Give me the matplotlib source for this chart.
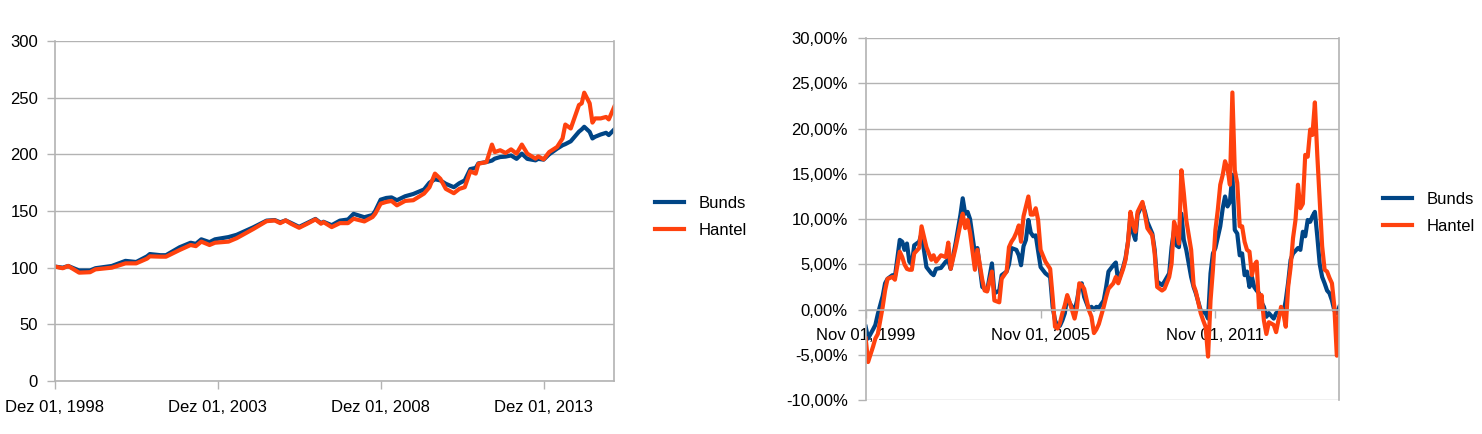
import matplotlib
matplotlib.use("Agg")
import matplotlib.pyplot as plt
import pandas as pd

plt.rcParams['font.family'] = ['Liberation Sans', 'DejaVu Sans']

BLUE = "#004586"
ORANGE = "#ff420e"
GRID = "#b3b3b3"

# ---------------- Left chart: index level (monthly, start Dec 1998) -----------
left_start = "1998-12-01"
left_months = [0, 3, 5, 9, 13, 15, 21, 26, 30, 34, 35, 39, 41, 46, 50, 52, 54, 57, 59, 64,
               67, 73, 78, 81, 83, 85, 87, 90, 93, 96, 98, 99, 102, 105, 108, 110, 114, 117,
               118, 120, 122, 124, 126, 129, 132, 136, 138, 140, 142, 144, 147, 149, 151,
               153, 155, 156, 159, 161, 162, 164, 166, 168, 170, 172, 174, 177, 178, 180,
               182, 185, 187, 188, 190, 193, 194, 195, 197, 198, 199, 201, 203, 204, 206]
left_bunds = [101, 100, 101.5, 97.5, 97.5, 99.5, 101.5, 106, 105, 110, 112, 111, 111, 118,
              122, 121, 125, 122.5, 125, 127, 129, 135.5, 141.5, 142, 140, 141.7, 139.5, 136,
              139.5, 143, 139.3, 140.5, 137.5, 141.5, 142.5, 147.5, 144.5, 146.5, 150, 160,
              161.5, 162, 159.5, 163, 165, 169, 175, 178, 177, 174, 171, 174.5, 177, 187, 188,
              192, 193.2, 194.5, 196.2, 197.6, 198, 199, 196, 200.6, 196, 194.7, 196, 195.3,
              200, 205, 208, 209, 211.5, 220, 222, 224.3, 219.8, 214, 215.5, 217.5, 219, 217,
              222]
left_hantel = [101, 99.5, 101.5, 95.6, 96, 98.5, 100, 103.8, 103.8, 108, 110, 109.7, 109.7,
               115.6, 120, 119, 123, 120, 122, 123, 126, 134, 141, 141.7, 139.3, 141.7, 138.8,
               135.2, 138.8, 142.6, 138.8, 140.2, 135.8, 139.3, 139.3, 143.2, 140.8, 144.7,
               147.6, 156.5, 158, 158.9, 155, 158.9, 159.5, 165.4, 171, 183, 178.4, 169.5,
               165.7, 169.5, 171, 185, 183, 191.7, 193.2, 208.6, 202, 203.6, 201.2, 204.4,
               200.6, 208.6, 200.6, 196.2, 198.2, 195.6, 202, 206.5, 214, 226.3, 222.8, 243.5,
               245, 254.4, 245, 228, 231.7, 231.7, 233, 230.8, 242]
left_ticks = ["1998-12-01", "2003-12-01", "2008-12-01", "2013-12-01"]
left_ticklabels = ["Dez 01, 1998", "Dez 01, 2003", "Dez 01, 2008", "Dez 01, 2013"]
left_yticks = [0, 50, 100, 150, 200, 250, 300]

# ---------------- Right chart: rolling returns in % (start Nov 1999) ---------------
right_start = "1999-11-01"
right_months = [0, 1, 3, 4, 5, 7, 8, 9, 11, 12, 14, 15, 16, 17, 18, 19, 20, 22, 23, 25, 27,
                28, 29, 31, 33, 34, 35, 37, 39, 40, 41, 42, 43, 45, 46, 48, 49, 50, 52, 53,
                55, 56, 58, 59, 60, 61, 62, 63, 64, 65, 66, 67, 68, 69, 70, 71, 72, 74, 76,
                77, 78, 79, 80, 81, 82, 83, 84, 86, 87, 88, 89, 90, 92, 93, 94, 95, 96, 98,
                99, 100, 102, 103, 104, 106, 107, 108, 109, 110, 111, 112, 114, 115, 116,
                118, 119, 120, 122, 123, 125, 126, 127, 128, 129, 130, 131, 132, 134, 135,
                136, 138, 139, 140, 141, 142, 143, 144, 145, 146, 147, 148, 149, 150, 151,
                152, 153, 154, 155, 156, 157, 158, 159, 160, 161, 162, 163, 164, 165, 166,
                168, 169, 171, 172, 173, 174, 175, 176, 177, 178, 179, 180, 181, 182, 183,
                184, 185, 186, 187, 188, 189, 190, 191, 192, 193, 194, 195]
right_bunds = [-1.9, -3.2, -2.2, -1.7, -0.5, 1.5, 2.9, 3.4, 3.8, 3.6, 7.7, 7.5, 6.6, 7.3,
               5.3, 5.0, 7.1, 7.5, 8.4, 4.7, 4.0, 3.8, 4.5, 4.6, 5.3, 5.5, 4.5, 7.3, 10.5,
               12.3, 10.6, 10.8, 10.0, 6.2, 6.8, 2.5, 2.3, 2.1, 5.1, 1.8, 2.1, 3.8, 4.2, 5.0,
               6.8, 6.7, 6.6, 6.0, 4.9, 7.0, 7.7, 9.9, 8.5, 8.1, 8.2, 6.5, 4.7, 4.0, 3.6, 0.3,
               -1.2, -1.8, -1.8, -1.2, -0.4, 1.4, 0.7, -0.1, 1.0, 2.5, 2.9, 1.4, 0.0, 0.3, 0.0,
               0.3, 0.2, 1.0, 2.5, 4.2, 4.9, 5.2, 3.1, 4.7, 5.7, 7.5, 10.3, 8.5, 7.7, 10.5,
               11.7, 10.8, 9.7, 8.4, 6.6, 3.1, 2.7, 3.1, 4.0, 6.9, 8.8, 7.1, 6.9, 10.6, 7.7,
               6.6, 3.6, 2.5, 1.8, -0.1, -0.3, -0.4, -1.0, 4.0, 6.2, 6.8, 8.0, 9.2, 11.2, 12.5,
               11.4, 11.9, 14.9, 8.8, 8.4, 6.0, 6.2, 3.8, 4.2, 2.5, 3.6, 2.5, 2.1, 1.8, 0.8,
               0.3, -0.8, -0.4, -1.0, -0.4, -0.1, -0.4, 1.0, 3.0, 5.5, 6.2, 6.5, 6.8, 6.6, 8.6,
               8.1, 9.9, 9.7, 10.3, 10.8, 8.1, 5.0, 3.6, 2.9, 2.1, 1.8, 1.0, -0.1, -0.4, 0.3]
right_hantel = [-3.2, -5.8, -4.1, -3.2, -2.7, 0.3, 2.1, 3.4, 3.6, 3.3, 6.4, 5.8, 5.0, 4.5,
                4.4, 4.4, 6.2, 6.8, 9.2, 6.9, 5.5, 6.0, 5.3, 6.0, 5.8, 7.4, 4.5, 6.8, 9.5,
                10.6, 9.0, 9.9, 8.5, 4.4, 6.6, 3.3, 2.1, 2.0, 4.2, 1.0, 0.8, 3.4, 4.2, 6.9,
                7.5, 7.9, 8.5, 9.3, 7.5, 10.3, 11.4, 12.5, 10.5, 10.5, 11.2, 9.9, 6.6, 5.3,
                4.5, 1.4, -1.9, -2.1, -1.5, -0.4, 0.5, 1.6, 0.8, -1.0, 0.3, 2.9, 2.7, 2.3,
                -0.1, -0.8, -2.6, -2.2, -1.6, 0.3, 1.4, 2.3, 2.9, 3.6, 2.9, 4.5, 5.5, 7.5,
                10.8, 9.5, 8.6, 10.8, 11.9, 10.5, 9.0, 8.2, 6.2, 2.5, 2.1, 2.3, 3.6, 5.1, 9.7,
                8.8, 7.3, 15.4, 12.9, 9.9, 6.6, 2.7, 2.0, -0.4, -1.2, -1.9, -5.2, 1.0, 4.4,
                8.8, 11.0, 13.8, 14.9, 16.4, 15.6, 13.8, 24.0, 15.4, 14.0, 9.2, 9.2, 7.5, 6.6,
                6.4, 3.8, 4.9, 5.3, 0.1, 1.6, -1.2, -2.7, -1.4, -1.7, -2.5, 0.3, -0.4, -1.9,
                2.5, 4.7, 7.9, 9.9, 13.8, 11.2, 11.7, 17.1, 16.9, 19.9, 19.3, 22.9, 17.1, 12.0,
                7.0, 4.4, 4.2, 3.5, 2.9, 0.3, -5.1, -0.4]
right_ticks = ["1999-11-01", "2005-11-01", "2011-11-01"]
right_ticklabels = ["Nov 01, 1999", "Nov 01, 2005", "Nov 01, 2011"]
right_yticks = [-10, -5, 0, 5, 10, 15, 20, 25, 30]
right_yticklabels = ["-10,00%", "-5,00%", "0,00%", "5,00%", "10,00%", "15,00%",
                     "20,00%", "25,00%", "30,00%"]

series_names = ["Bunds", "Hantel"]


def to_dates(start, months):
    s = pd.Timestamp(start)
    return [s + pd.DateOffset(months=int(m)) for m in months]


W, H = 1482, 434
fig = plt.figure(figsize=(W / 100, H / 100), dpi=100)

FS = 12
LW = 3.0


def style_axes(ax):
    ax.grid(True, axis='y', color=GRID, linewidth=1.0)
    ax.set_axisbelow(True)
    for s in ['left', 'right', 'bottom', 'top']:
        ax.spines[s].set_color(GRID)
        ax.spines[s].set_linewidth(1.2)
    ax.spines['top'].set_visible(False)
    ax.tick_params(axis='both', colors=GRID, labelcolor='black', labelsize=FS,
                   length=6, width=1.0)


# Left axes
axL = fig.add_axes([54.7 / W, 1 - 381 / H, (614.3 - 54.7) / W, (381 - 41) / H])
dL = to_dates(left_start, left_months)
axL.plot(dL, left_bunds, color=BLUE, lw=LW, label=series_names[0], solid_joinstyle='round')
axL.plot(dL, left_hantel, color=ORANGE, lw=LW, label=series_names[1], solid_joinstyle='round')
axL.set_xlim(dL[0], dL[-1])
axL.set_ylim(0, 300)
axL.set_yticks(left_yticks)
axL.set_xticks(pd.to_datetime(left_ticks))
axL.set_xticklabels(left_ticklabels)
style_axes(axL)
axL.tick_params(axis='x', pad=8)
axL.tick_params(axis='y', pad=6)
axL.legend(loc='center left', bbox_to_anchor=(648 / W, 1 - 217 / H),
           bbox_transform=fig.transFigure, frameon=False, fontsize=FS,
           handlelength=1.75, handletextpad=0.9, labelspacing=0.75, borderaxespad=0)

# Right axes
axR = fig.add_axes([865.7 / W, 1 - 400 / H, (1339.3 - 865.7) / W, (400 - 38.2) / H])
dR = to_dates(right_start, right_months)
axR.plot(dR, right_bunds, color=BLUE, lw=LW, label=series_names[0], solid_joinstyle='round')
axR.plot(dR, right_hantel, color=ORANGE, lw=LW, label=series_names[1], solid_joinstyle='round')
axR.set_xlim(dR[0], dR[-1])
axR.set_ylim(-10, 30)
axR.set_yticks(right_yticks)
axR.set_yticklabels(right_yticklabels)
axR.set_xticks(pd.to_datetime(right_ticks))
axR.set_xticklabels(right_ticklabels)
style_axes(axR)
axR.spines['bottom'].set_position(('data', 0))
axR.tick_params(axis='x', pad=7)
axR.tick_params(axis='y', pad=7)
axR.legend(loc='center left', bbox_to_anchor=(1376 / W, 1 - 213 / H),
           bbox_transform=fig.transFigure, frameon=False, fontsize=FS,
           handlelength=1.75, handletextpad=0.9, labelspacing=0.75, borderaxespad=0)

fig.savefig("out.png", dpi=100)
